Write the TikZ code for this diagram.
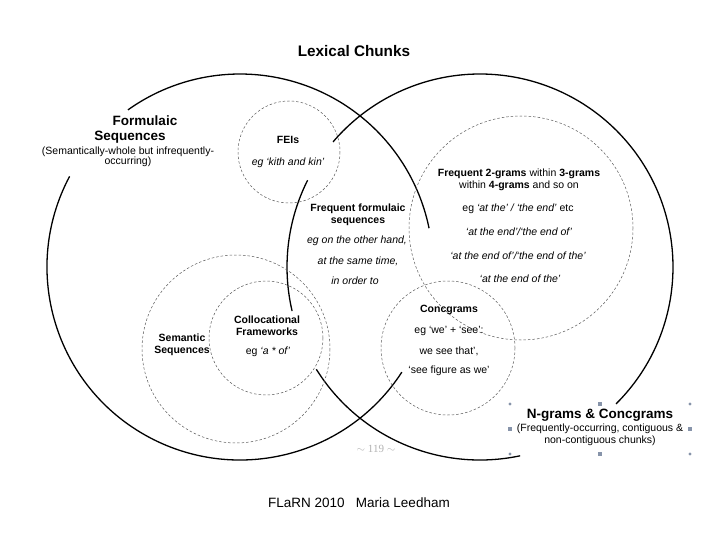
\documentclass[tikz,border=0pt]{standalone}
\usepackage{fontspec}
\setmainfont{Liberation Sans}
\newfontfamily\pagefont{Liberation Serif}
\definecolor{handlegray}{RGB}{135,148,170}

\begin{document}
\begin{tikzpicture}[x=1pt, y=-1pt,
    ring/.style={line width=1.3pt},
    dashring/.style={line width=0.5pt, gray!70!black, dash pattern=on 2.5pt off 2pt},
    big/.style={font=\fontsize{13.5}{14}\selectfont\bfseries, align=center},
    head/.style={font=\fontsize{10.5}{12}\selectfont\bfseries, align=center},
    txt/.style={font=\fontsize{10.5}{12}\selectfont, align=center},
    egtxt/.style={font=\fontsize{10.5}{12}\selectfont\itshape},
    handle/.style={fill=handlegray, draw=none}]
    \useasboundingbox (0,0) rectangle (720,540);
    % Centres of the two big sets
    \coordinate (L) at (240,267);
    \coordinate (R) at (480,267);
    % Formulaic Sequences circle, broken where labels sit
    \draw[ring] (L) ++(-11.6:193) arc[start angle=-11.6, end angle=-125.5, radius=193];
    \draw[ring] (L) ++(-152:193) arc[start angle=-152, end angle=-327, radius=193];
    % N-grams & Concgrams circle
    \draw[ring] (R) ++(45.2:193) arc[start angle=45.2, end angle=-139.6, radius=193];
    \draw[ring] (R) ++(-153.3:193) arc[start angle=-153.3, end angle=-193.2, radius=193];
    \draw[ring] (R) ++(-212:193) arc[start angle=-212, end angle=-282, radius=193];
    % Sub-sets
    \draw[dashring] (289,152) circle (51);
    \draw[dashring] (521,228) circle (112);
    \draw[dashring] (448,348) circle (67);
    \draw[dashring] (236,349) circle (94);
    \draw[dashring] (266,338) circle (57);
    % Title
    \node[font=\fontsize{15.3}{17}\selectfont\bfseries] (title) at (354,51) {Lexical Chunks};
    % Formulaic sequences
    \node[big] (formA) at (145,121) {Formulaic};
    \node[big] (formB) at (130,137) {Sequences};
    \node[txt, font=\fontsize{10.5}{10.5}\selectfont] (formC) at (128,157) {(Semantically-whole but infrequently-\\occurring)};
    % FEIs
    \node[head] (fei) at (288,140) {FEIs};
    \node[egtxt] (feiEg) at (288,163) {eg `kith and kin'};
    % Frequent formulaic sequences
    \node[head] (ffs) at (358,215) {Frequent formulaic\\sequences};
    \node[egtxt] (ffsA) at (357,241) {eg on the other hand,};
    \node[egtxt] (ffsB) at (358,261) {at the same time,};
    \node[egtxt] (ffsC) at (355,281) {in order to};
    % n-grams
    \node[txt] (twoA) at (519,174) {\textbf{Frequent 2-grams} within \textbf{3-grams}};
    \node[txt] (twoB) at (519,186) {within \textbf{4-grams} and so on};
    \node[txt] (twoC) at (518,209) {eg \textit{`at the' / `the end'} etc};
    \node[egtxt] (twoD) at (519,232) {`at the end'/`the end of'};
    \node[egtxt] (twoE) at (518,256) {`at the end of'/`the end of the'};
    \node[egtxt] (twoF) at (520,279) {`at the end of the'};
    % Concgrams
    \node[head] (cg) at (449,310) {Concgrams};
    \node[txt] (cgA) at (449,331) {eg `we' + `see':};
    \node[txt] (cgB) at (449,351) {we see that',};
    \node[txt] (cgC) at (449,371) {`see figure as we'};
    % Collocational frameworks and semantic sequences
    \node[head] (cf) at (267,326) {Collocational\\Frameworks};
    \node[txt] (cfEg) at (268,352) {eg \textit{`a * of'}};
    \node[head] (ss) at (182,345) {Semantic\\Sequences};
    % N-grams & Concgrams label
    \node[big] (ng) at (600,415) {N-grams \& Concgrams};
    \node[txt] (ngA) at (600,435) {(Frequently-occurring, contiguous \&\\non-contiguous chunks)};
    \foreach \x in {510,690} \foreach \y in {404,454} \fill[handle] (\x,\y) circle (1.6);
    \foreach \p in {(600,404),(600,454),(510,429),(690,429)} \fill[handle] \p ++(-1.6,-1.6) rectangle ++(3.2,3.2);
    % Page number and footer
    \node[font=\pagefont\fontsize{11}{12}\selectfont, text=gray!60] (pg) at (376,449) {$\sim$ 119 $\sim$};
    \node[font=\fontsize{13.5}{15}\selectfont] (foot) at (359,503) {FLaRN 2010 \ \ Maria Leedham};
\end{tikzpicture}
\end{document}
